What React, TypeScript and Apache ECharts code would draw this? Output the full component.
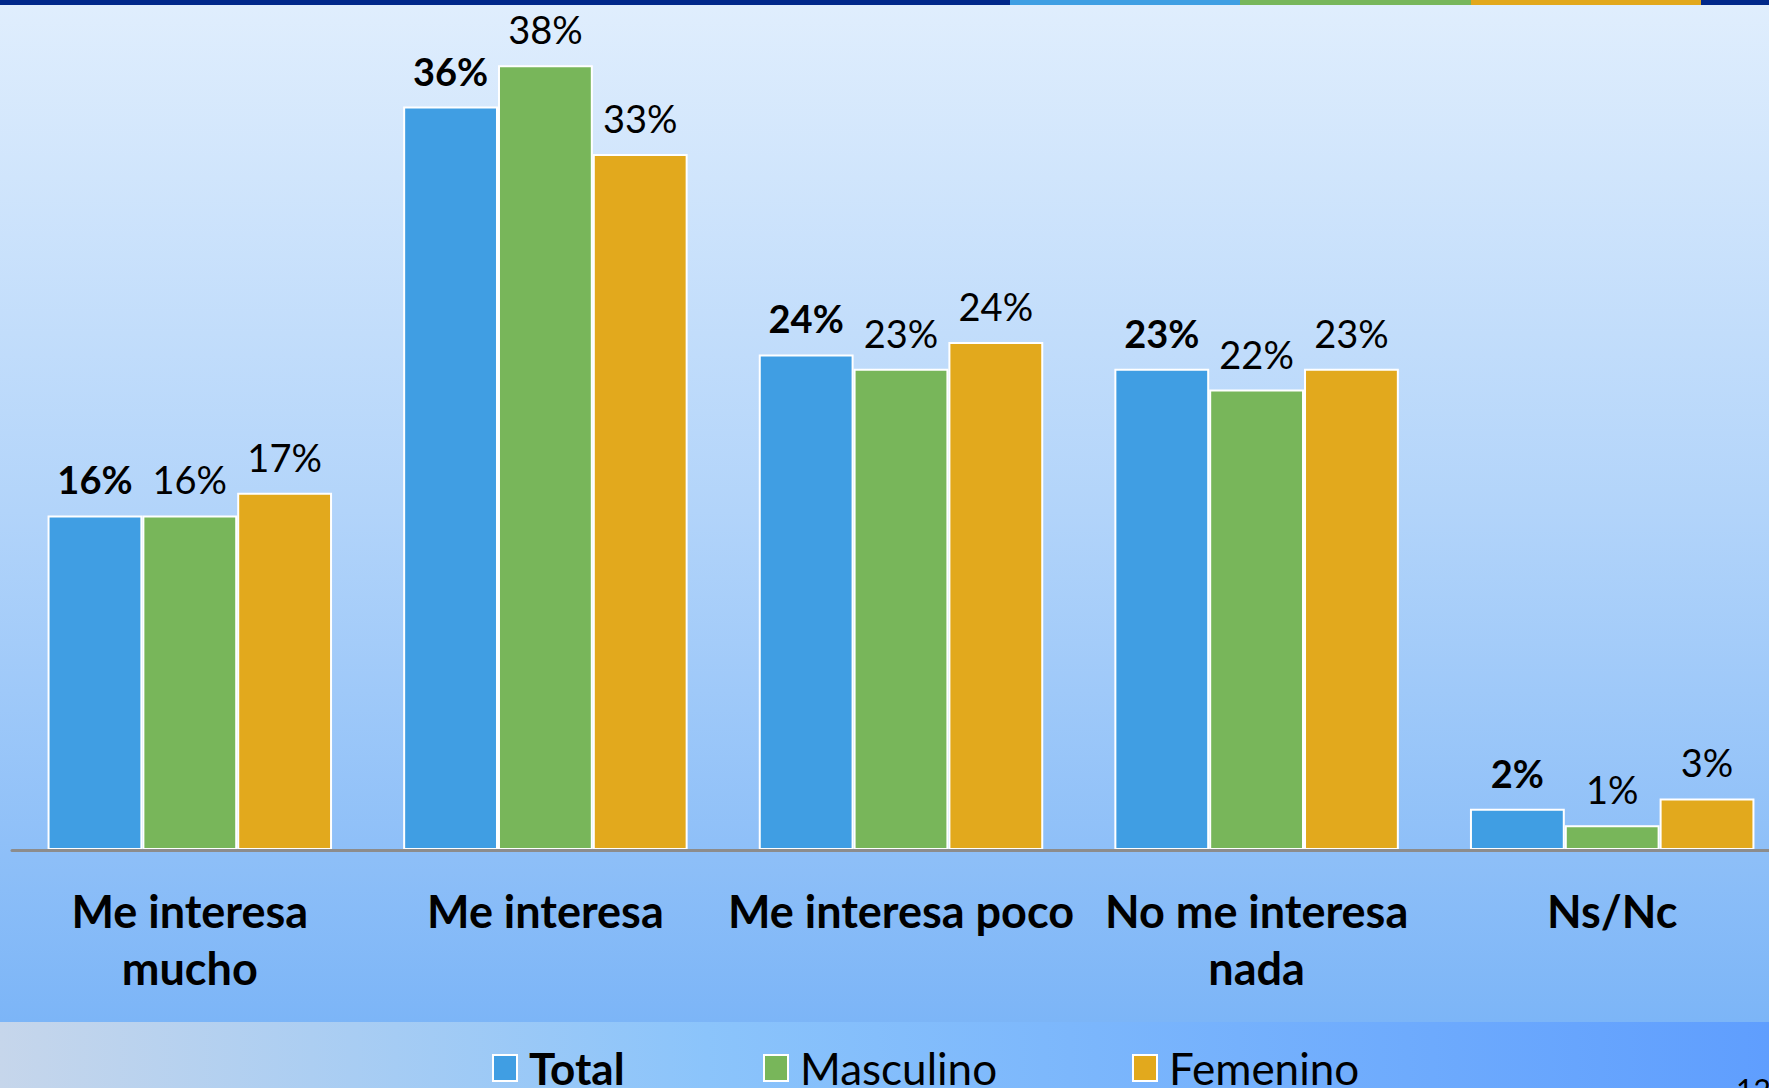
import React, { useEffect, useRef } from "react";
import * as echarts from "echarts";

const categories = ["Me interesa\nmucho", "Me interesa", "Me interesa poco", "No me interesa\nnada", "Ns/Nc"];
const seriesNames = ["Total", "Masculino", "Femenino"];
const totalValues = [16.2, 36.0, 24.0, 23.3, 2.0];
const masculinoValues = [16.2, 38.0, 23.3, 22.3, 1.2];
const femeninoValues = [17.3, 33.7, 24.6, 23.3, 2.5];
const totalLabels = ["16%", "36%", "24%", "23%", "2%"];
const masculinoLabels = ["16%", "38%", "23%", "22%", "1%"];
const femeninoLabels = ["17%", "33%", "24%", "23%", "3%"];
const pageNumber = "12";

const W = 1769;
const CW = 1790;
const H = 1088;
const FONT = "Lato";
const COLORS = ["#409ee3", "#78b65a", "#e2a91d"];

export default function App() {
  const ref = useRef<HTMLDivElement>(null);
  useEffect(() => {
    document.body.style.margin = "0";
    document.body.style.overflow = "hidden";
    document.documentElement.style.overflow = "hidden";
    const chart = echarts.init(ref.current!, null, { renderer: "svg" });
    const mkSeries = (name: string, data: number[], labels: string[], color: string, bold: boolean) => ({
      name,
      type: "bar",
      data,
      barGap: "0%",
      barCategoryGap: "20%",
      itemStyle: { color, borderColor: "#ffffff", borderWidth: 2 },
      label: {
        show: true,
        position: "top",
        distance: 17,
        color: "#000",
        fontFamily: FONT,
        fontSize: 38,
        fontWeight: bold ? "bold" : "normal",
        formatter: (p: any) => labels[p.dataIndex],
      },
      z: 3,
    });
    const legendBase = {
      top: 1045,
      padding: 0,
      icon: "rect",
      itemWidth: 24,
      itemHeight: 26,
      itemStyle: { borderColor: "#ffffff", borderWidth: 2 },
      textStyle: { fontFamily: FONT, fontSize: 44, color: "#000", padding: [0, 0, 0, 7], lineHeight: 46 },
      selectedMode: false,
    };
    chart.setOption({
      animation: false,
      graphic: [
        {
          type: "rect",
          z: -10,
          silent: true,
          shape: { x: 0, y: 0, width: CW, height: 1022 },
          style: {
            fill: new echarts.graphic.LinearGradient(0, 0, 0, 1, [
              { offset: 0, color: "#e0eefd" },
              { offset: 0.5, color: "#b2d4fa" },
              { offset: 1, color: "#7cb5f7" },
            ]),
          },
        },
        {
          type: "rect",
          z: -10,
          silent: true,
          shape: { x: 0, y: 1022, width: W, height: H - 1022 },
          style: {
            fill: new echarts.graphic.LinearGradient(0, 0, 1, 0, [
              { offset: 0, color: "#c6d6eb" },
              { offset: 0.4, color: "#8bc4fb" },
              { offset: 1, color: "#5f9efe" },
            ]),
          },
        },
        { type: "rect", z: -5, silent: true, shape: { x: 0, y: 0, width: 1010, height: 5 }, style: { fill: "#00288a" } },
        { type: "rect", z: -5, silent: true, shape: { x: 1010, y: 0, width: 230, height: 5 }, style: { fill: "#3f9fe3" } },
        { type: "rect", z: -5, silent: true, shape: { x: 1240, y: 0, width: 231, height: 5 }, style: { fill: "#77b65b" } },
        { type: "rect", z: -5, silent: true, shape: { x: 1471, y: 0, width: 230, height: 5 }, style: { fill: "#e2a81c" } },
        { type: "rect", z: -5, silent: true, shape: { x: 1701, y: 0, width: CW - 1701, height: 5 }, style: { fill: "#00288a" } },
        {
          type: "text",
          z: 5,
          silent: true,
          x: 1736,
          y: 1074,
          style: { text: pageNumber, fontFamily: FONT, fontSize: 30, fill: "#000" },
        },
      ],
      grid: { left: 12, right: 0, top: 24, bottom: 238, containLabel: false },
      xAxis: {
        type: "category",
        data: categories,
        axisLine: { show: true, lineStyle: { color: "#8c8c8c", width: 3 } },
        axisTick: { show: false },
        axisLabel: {
          interval: 0,
          margin: 32,
          color: "#000",
          fontFamily: FONT,
          fontSize: 45,
          fontWeight: "bold",
          lineHeight: 57,
        },
        z: 4,
      },
      yAxis: {
        type: "value",
        min: 0,
        max: 40,
        show: false,
        splitLine: { show: false },
      },
      legend: [
        { ...legendBase, left: 492, data: ["Total"], textStyle: { ...legendBase.textStyle, fontWeight: "bold" } },
        { ...legendBase, left: 763, data: ["Masculino"] },
        { ...legendBase, left: 1132, data: ["Femenino"] },
      ],
      series: [
        mkSeries(seriesNames[0], totalValues, totalLabels, COLORS[0], true),
        mkSeries(seriesNames[1], masculinoValues, masculinoLabels, COLORS[1], false),
        mkSeries(seriesNames[2], femeninoValues, femeninoLabels, COLORS[2], false),
      ],
    });
    return () => chart.dispose();
  }, []);
  return (
    <div style={{ width: W, height: H, overflow: "hidden", position: "relative" }}>
      <div ref={ref} style={{ width: CW, height: H }} />
    </div>
  );
}
